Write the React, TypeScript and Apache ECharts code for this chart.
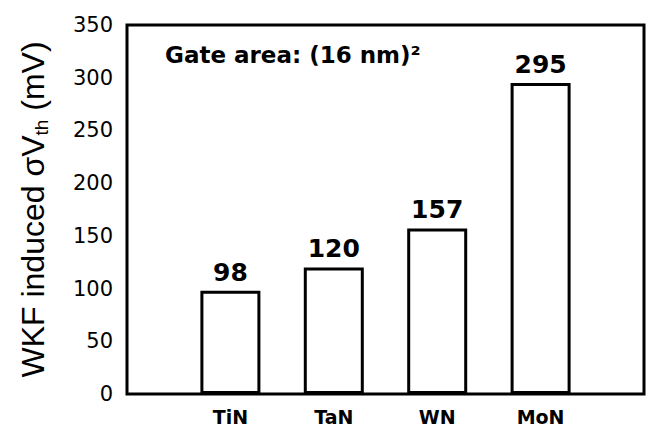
import React, { useEffect, useRef } from "react";
import * as echarts from "echarts";

const categories = ["TiN", "TaN", "WN", "MoN"];
const values = [98, 120, 157, 295];
const yTicks = [0, 50, 100, 150, 200, 250, 300, 350];
const annotation = "Gate area: (16 nm)²";

export default function App() {
  const ref = useRef<HTMLDivElement>(null);
  useEffect(() => {
    if (!ref.current) return;
    const chart = echarts.init(ref.current, null, { renderer: "svg" });
    const axisCats = ["", ...categories, ""];
    const seriesData = [null, ...values, null];
    const option = {
      animation: false,
      backgroundColor: "#fff",
      grid: {
        left: 127,
        right: 16,
        top: 25,
        bottom: 32,
        show: true,
        borderColor: "#000",
        borderWidth: 3,
        backgroundColor: "transparent",
      },
      xAxis: {
        type: "category",
        data: axisCats,
        boundaryGap: false,
        axisLine: { show: false },
        axisTick: { show: false },
        splitLine: { show: false },
        axisLabel: {
          interval: 0,
          margin: 13,
          color: "#000",
          fontFamily: "DejaVu Sans",
          fontWeight: "bold",
          fontSize: 19,
        },
      },
      yAxis: {
        type: "value",
        min: yTicks[0],
        max: yTicks[yTicks.length - 1],
        interval: 50,
        axisLine: { show: false },
        axisTick: { show: false },
        splitLine: { show: false },
        axisLabel: {
          margin: 14,
          color: "#000",
          fontFamily: "DejaVu Sans",
          fontSize: 21,
        },
        name: "{a|WKF induced σV}{s|th}{a| (mV)}",
        nameLocation: "middle",
        nameGap: 76,
        nameRotate: 90,
        nameTextStyle: {
          rich: {
            a: {
              fontFamily: "Liberation Sans, Arial",
              fontSize: 32,
              lineHeight: 37,
              color: "#000",
            },
            s: {
              fontFamily: "Liberation Sans, Arial",
              fontSize: 19,
              lineHeight: 14,
              verticalAlign: "bottom",
              color: "#000",
            },
          },
        },
      },
      series: [
        {
          type: "bar",
          data: seriesData,
          barWidth: 60,
          itemStyle: { color: "#fff", borderColor: "#000", borderWidth: 3 },
          label: {
            show: true,
            position: "top",
            distance: 6,
            color: "#000",
            fontFamily: "DejaVu Sans",
            fontWeight: "bold",
            fontSize: 25,
          },
        },
      ],
      graphic: [
        {
          type: "text",
          left: 165,
          top: 43,
          style: {
            text: annotation,
            fill: "#000",
            font: "bold 23px 'DejaVu Sans'",
          },
        },
      ],
    };
    chart.setOption(option as any);
    return () => chart.dispose();
  }, []);
  return (
    <div
      ref={ref}
      style={{ position: "fixed", left: 0, top: 0, width: 660, height: 426 }}
    />
  );
}
